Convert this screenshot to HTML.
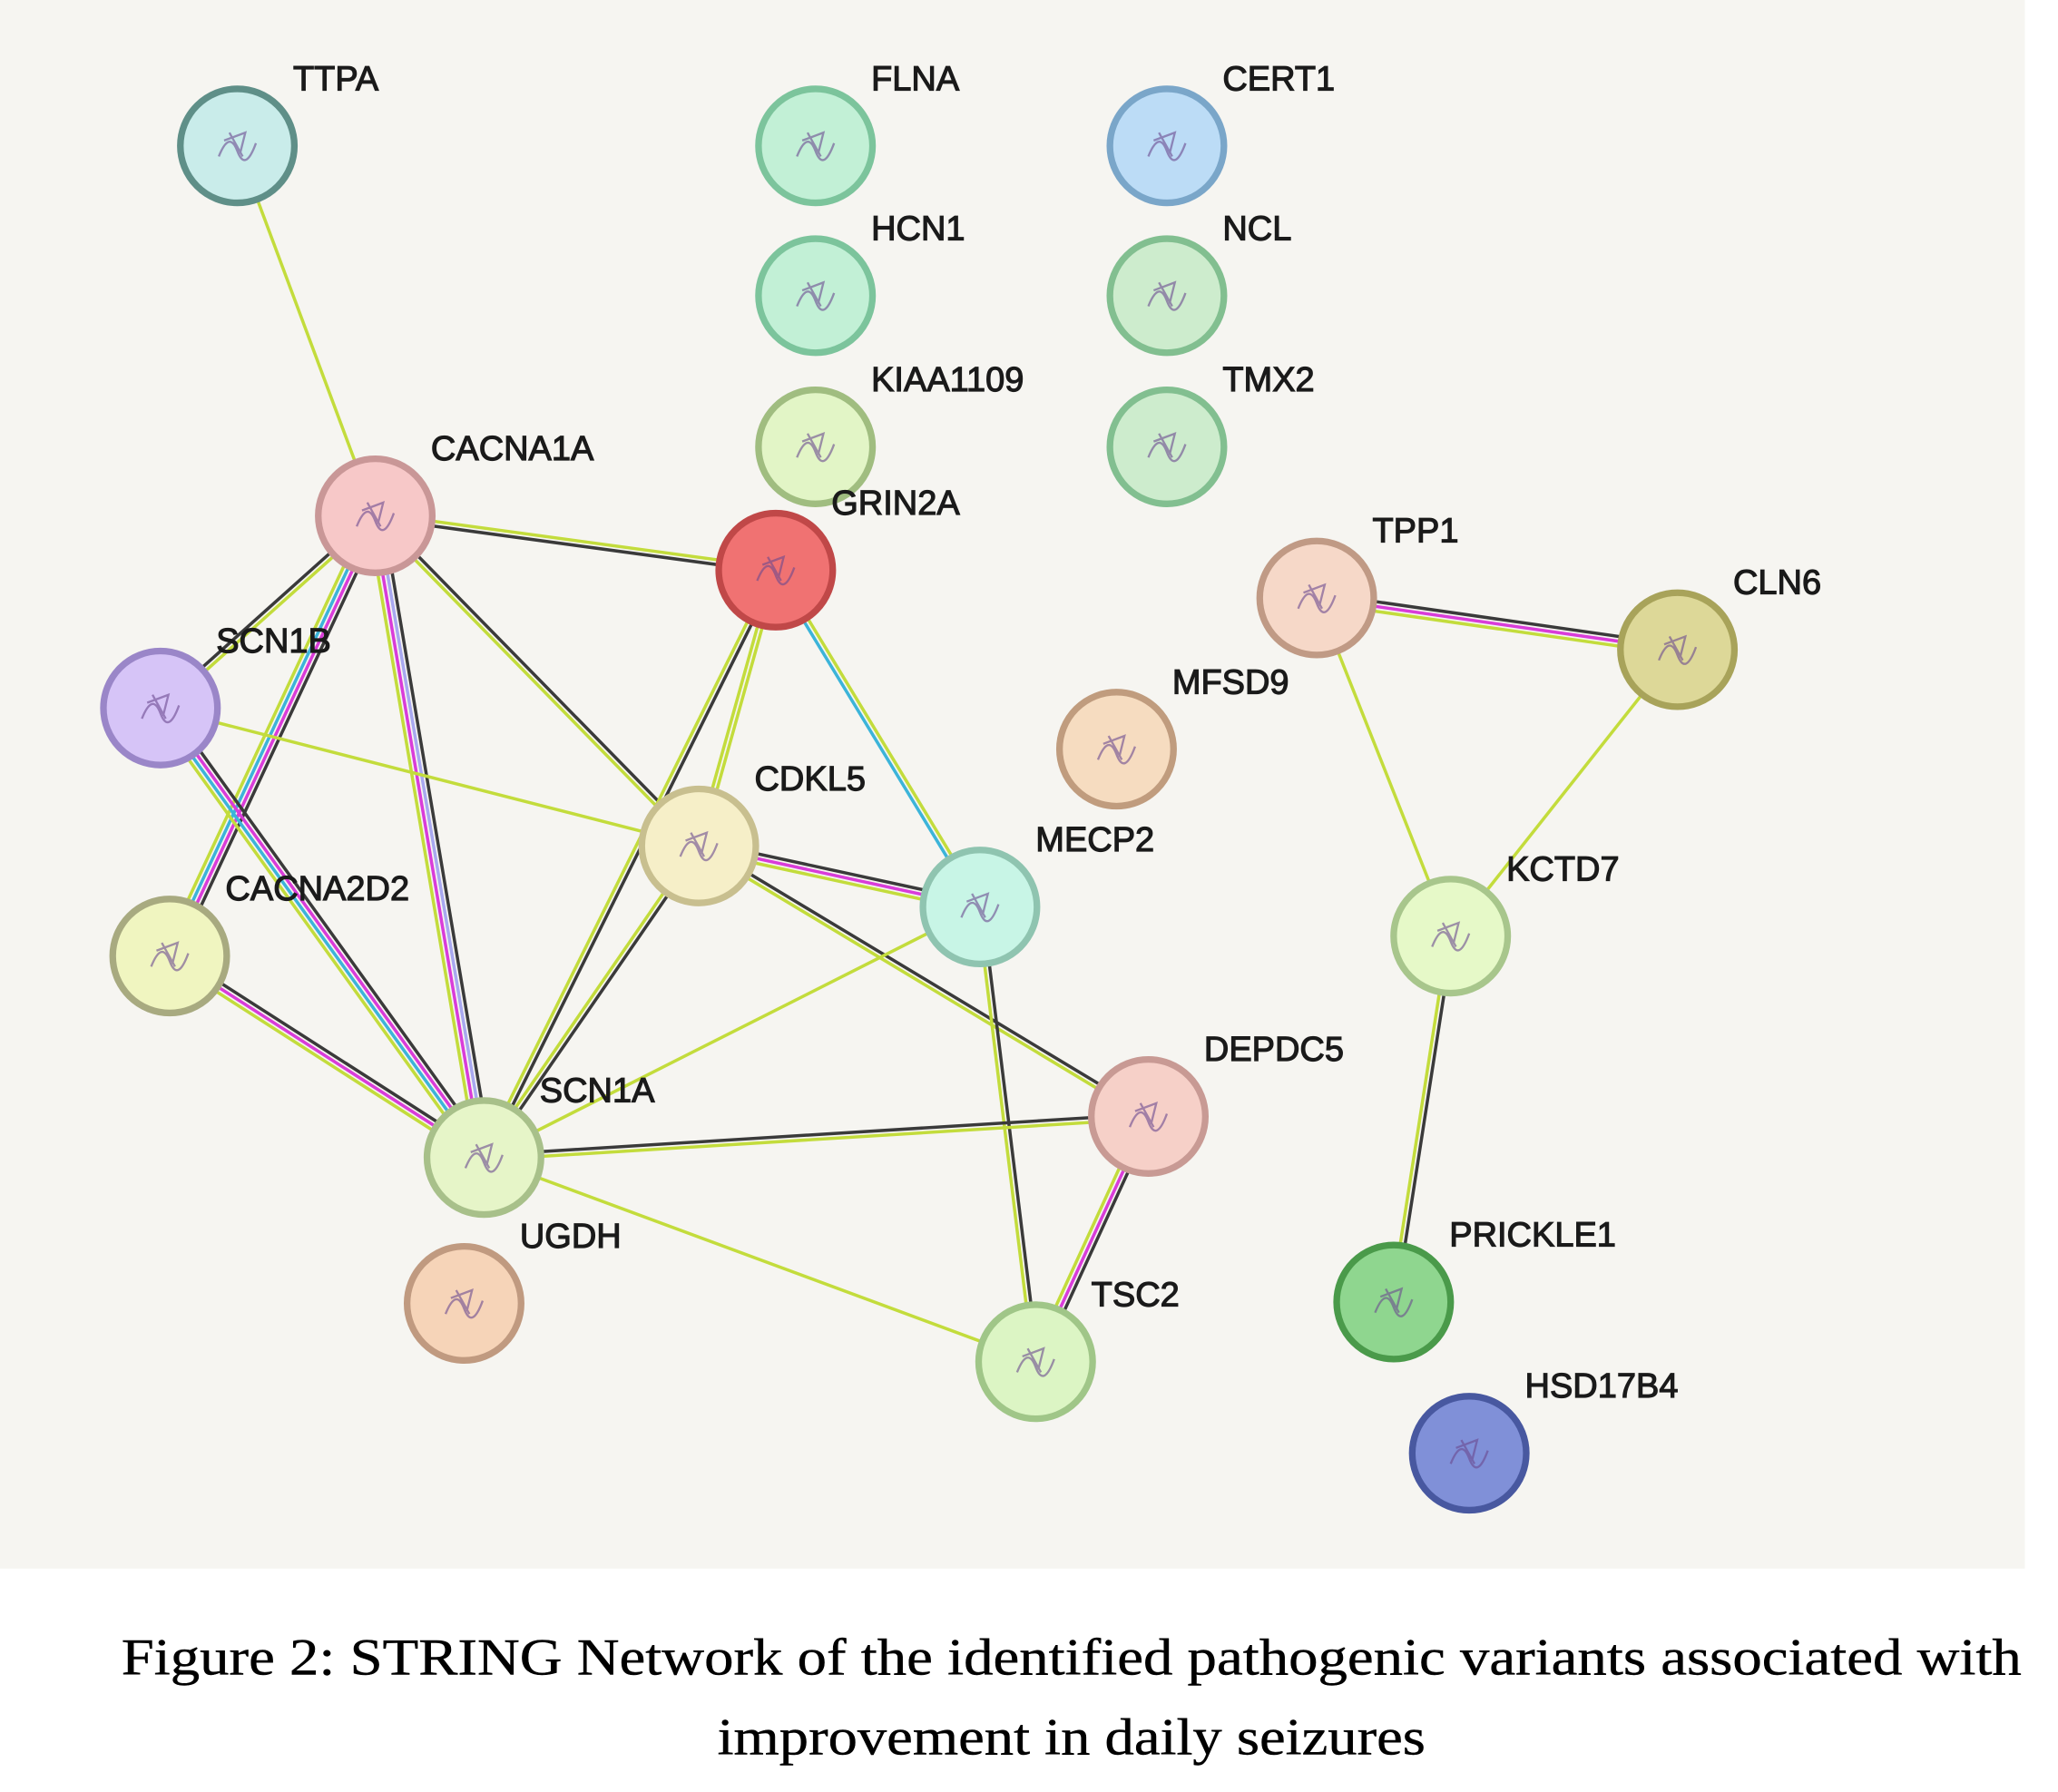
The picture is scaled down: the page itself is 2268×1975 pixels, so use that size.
<!DOCTYPE html>
<html><head><meta charset="utf-8"><style>
html,body{margin:0;padding:0;background:#fff;}
svg{display:block;}
</style></head><body>
<svg id="s" width="2268" height="1975" viewBox="0 0 1552 1351.5" preserveAspectRatio="none" xmlns="http://www.w3.org/2000/svg">
<rect x="0" y="0" width="1527" height="1183" fill="#f6f5f1"/>
<g id="edges"></g>
<g id="nodes"></g>
<text x="808" y="1263" text-anchor="middle" font-family="Liberation Serif, serif" font-size="39" textLength="1433" lengthAdjust="spacingAndGlyphs" fill="#000" stroke="#000" stroke-width="0.3">Figure 2: STRING Network of the identified pathogenic variants associated with</text>
<text x="808" y="1323" text-anchor="middle" font-family="Liberation Serif, serif" font-size="39" textLength="534" lengthAdjust="spacingAndGlyphs" fill="#000" stroke="#000" stroke-width="0.3">improvement in daily seizures</text>
</svg>
<script>
var N={
TTPA:[179,110,"#c9ecea","#5f8f88"],
FLNA:[615,110,"#c2f0d6","#7cc49c"],
CERT1:[880,110,"#bcdcf6","#7aa6c9"],
HCN1:[615,223,"#c2f0d6","#7cc49c"],
NCL:[880,223,"#cdeccd","#82bf90"],
KIAA1109:[615,337,"#e2f5c6","#a0bd80"],
TMX2:[880,337,"#cdeccd","#82bf90"],
CACNA1A:[283,389,"#f7c8c8","#c99797"],
GRIN2A:[585,430,"#f07272","#c04848"],
TPP1:[993,451,"#f6d8c8","#c09a85"],
CLN6:[1265,490,"#ddd898","#a8a35a"],
SCN1B:[121,534,"#d6c4f7","#9a86c8"],
MFSD9:[842,565,"#f6dcc0","#c09c7e"],
CDKL5:[527,638,"#f6efc8","#c8bf8f"],
MECP2:[739,684,"#c8f5e6","#8fc4b0"],
KCTD7:[1094,706,"#e6f9c8","#a8c68c"],
CACNA2D2:[128,721,"#f0f5c0","#a8aa80"],
DEPDC5:[866,842,"#f6d0c8","#c89a94"],
SCN1A:[365,873,"#e6f5c8","#a8c08a"],
UGDH:[350,983,"#f6d4b8","#c09a80"],
TSC2:[781,1027,"#dcf5c4","#a0c688"],
PRICKLE1:[1051,982,"#8fd68f","#4a9a4a"],
HSD17B4:[1108,1096,"#8090d8","#4858a0"]};
var Y="#c3dc3c",B="#3a3a3a",M="#d93cd9",C="#3cb4d9",L="#a8a8f0";
var E=[
["TTPA","CACNA1A",[Y]],
["CACNA1A","GRIN2A",[Y,B]],
["CACNA1A","SCN1B",[Y,B]],
["CACNA1A","CACNA2D2",[B,M,C,Y]],
["CACNA1A","SCN1A",[B,L,M,Y]],
["CACNA1A","CDKL5",[B,Y]],
["SCN1B","SCN1A",[B,M,C,Y]],
["SCN1B","CDKL5",[Y]],
["CACNA2D2","SCN1A",[B,M,Y]],
["GRIN2A","SCN1A",[B,Y]],
["GRIN2A","CDKL5",[Y,Y]],
["GRIN2A","MECP2",[Y,C]],
["CDKL5","MECP2",[B,M,Y]],
["CDKL5","SCN1A",[B,Y]],
["CDKL5","DEPDC5",[B,Y]],
["MECP2","SCN1A",[Y]],
["MECP2","TSC2",[B,Y]],
["SCN1A","DEPDC5",[B,Y]],
["SCN1A","TSC2",[Y]],
["DEPDC5","TSC2",[B,M,Y]],
["TPP1","CLN6",[B,M,Y]],
["TPP1","KCTD7",[Y]],
["CLN6","KCTD7",[Y]],
["KCTD7","PRICKLE1",[B,Y]]];
var ns="http://www.w3.org/2000/svg",eg=document.getElementById("edges"),ng=document.getElementById("nodes");
function el(t,a,p){var e=document.createElementNS(ns,t);for(var k in a)e.setAttribute(k,a[k]);p.appendChild(e);return e;}
E.forEach(function(e){var a=N[e[0]],b=N[e[1]],dx=b[0]-a[0],dy=b[1]-a[1],l=Math.hypot(dx,dy),px=-dy/l,py=dx/l,n=e[2].length;
e[2].forEach(function(c,i){var o=(i-(n-1)/2)*3.6;el("line",{x1:a[0]+px*o,y1:a[1]+py*o,x2:b[0]+px*o,y2:b[1]+py*o,stroke:c,"stroke-width":2.4},eg);});});
for(var k in N){var v=N[k];
el("circle",{cx:v[0],cy:v[1],r:43,fill:v[2],stroke:v[3],"stroke-width":5},ng);
el("path",{d:"M"+(v[0]-14)+" "+(v[1]+8)+" q8 -20 14 -4 t14 -6 M"+(v[0]-6)+" "+(v[1]-10)+" l10 18 M"+(v[0]-10)+" "+(v[1]-4)+" l16 -6 l-4 16",stroke:"#6a4a90","stroke-width":1.6,fill:"none",opacity:0.6},ng);
var t=el("text",{x:v[0]+42,y:v[1]-42,"font-family":"Liberation Sans, sans-serif","font-size":26,fill:"#1a1a1a",stroke:"#1a1a1a","stroke-width":0.8},ng);t.textContent=k;}
</script>
</body></html>
